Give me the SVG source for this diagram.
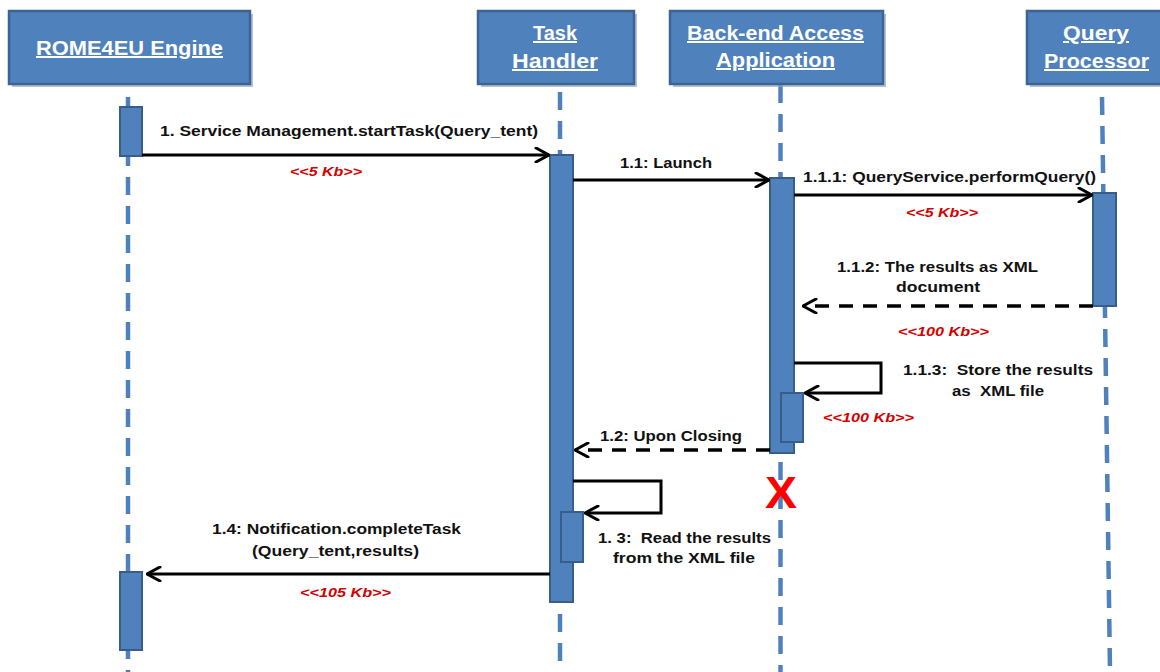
<svg xmlns="http://www.w3.org/2000/svg" width="1160" height="672" viewBox="0 0 1160 672">
<style>
.hdr{fill:#4F81BD;stroke:#3A6496;stroke-width:2.5}
.shd{fill:#9AA6BA;opacity:0.7}
.ht{font-family:"Liberation Sans",Arial,sans-serif;font-weight:bold;font-size:20px;fill:#ffffff;text-decoration:underline}
.life{stroke:#4F81BD;stroke-width:4.5;stroke-dasharray:18 11;fill:none}
.bar{fill:#4F81BD;stroke:#385D8A;stroke-width:2}
.msg{stroke:#000;stroke-width:3;fill:none}
.ret{stroke:#000;stroke-width:3.5;fill:none;stroke-dasharray:14 10}
.lbl{font-family:"Liberation Sans",Arial,sans-serif;font-weight:bold;font-size:14px;fill:#111}
.sz{font-family:"Liberation Sans",Arial,sans-serif;font-weight:bold;font-style:italic;font-size:13px;fill:#D40000}
</style>
<defs>
<marker id="open" viewBox="0 0 16 16" refX="15" refY="8" markerWidth="16" markerHeight="16" markerUnits="userSpaceOnUse" orient="auto">
<path d="M2,1 L15,8 L2,15" fill="none" stroke="#000" stroke-width="3" stroke-linejoin="round" stroke-linecap="round"/>
</marker>
</defs>
<rect width="1160" height="672" fill="#ffffff"/>
<g id="lifelines">
<line class="life" x1="128" y1="97" x2="128" y2="672" stroke-dashoffset="7"/>
<line class="life" x1="560" y1="92" x2="560" y2="672"/>
<line class="life" x1="780.5" y1="85" x2="780.5" y2="672"/>
<line class="life" x1="1102" y1="97" x2="1110" y2="672"/>
</g>
<g id="rome4eu">
<rect class="shd" x="12" y="14" width="241" height="73"/>
<rect class="hdr" x="9" y="11" width="241" height="73"/>
<text class="ht" x="36" y="55" textLength="187" lengthAdjust="spacingAndGlyphs">ROME4EU Engine</text>
<rect class="bar" x="120" y="107" width="22" height="49"/>
<rect class="bar" x="120" y="572" width="22" height="78"/>
</g>
<g id="taskhandler">
<rect class="shd" x="481" y="14" width="156" height="73"/>
<rect class="hdr" x="478" y="11" width="156" height="73"/>
<text class="ht" x="533" y="40" textLength="44" lengthAdjust="spacingAndGlyphs">Task</text>
<text class="ht" x="512" y="68" textLength="86" lengthAdjust="spacingAndGlyphs">Handler</text>
<rect class="bar" x="550" y="155" width="23" height="447"/>
<rect class="bar" x="561" y="512" width="22" height="50"/>
</g>
<g id="backend">
<rect class="shd" x="673" y="14" width="213" height="73"/>
<rect class="hdr" x="670" y="11" width="213" height="73"/>
<text class="ht" x="687" y="40" textLength="177" lengthAdjust="spacingAndGlyphs">Back-end Access</text>
<text class="ht" x="716" y="67" textLength="119" lengthAdjust="spacingAndGlyphs">Application</text>
<rect class="bar" x="770" y="178" width="24" height="275"/>
<rect class="bar" x="781" y="393" width="22" height="49"/>
<text x="781" y="508" text-anchor="middle" font-family="Liberation Sans,Arial,sans-serif" font-weight="bold" font-size="44" fill="#FF0000" textLength="32" lengthAdjust="spacingAndGlyphs">X</text>
</g>
<g id="queryprocessor">
<rect class="shd" x="1030" y="14" width="150" height="73"/>
<rect class="hdr" x="1027" y="11" width="150" height="73"/>
<text class="ht" x="1063" y="40" textLength="66" lengthAdjust="spacingAndGlyphs">Query</text>
<text class="ht" x="1044" y="68" textLength="105" lengthAdjust="spacingAndGlyphs">Processor</text>
<rect class="bar" x="1093" y="193" width="23" height="113"/>
</g>
<g id="connectors">
<path class="msg" d="M142,155 H549" marker-end="url(#open)"/>
<path class="msg" d="M573,180 H769" marker-end="url(#open)"/>
<path class="msg" d="M794,195 H1092" marker-end="url(#open)"/>
<path class="ret" d="M1093,306 H803" marker-end="url(#open)"/>
<path class="msg" d="M794,363 H881 V393 H805" marker-end="url(#open)"/>
<path class="ret" d="M770,450 H575" marker-end="url(#open)"/>
<path class="msg" d="M573,481 H661 V513 H585" marker-end="url(#open)"/>
<path class="msg" d="M550,574 H147" marker-end="url(#open)"/>
</g>
<g id="labels">
<text class="lbl" x="160" y="136" textLength="378" lengthAdjust="spacingAndGlyphs">1. Service Management.startTask(Query_tent)</text>
<text class="sz" x="290" y="176" textLength="72" lengthAdjust="spacingAndGlyphs">&lt;&lt;5 Kb&gt;&gt;</text>
<text class="lbl" x="620" y="168" textLength="92" lengthAdjust="spacingAndGlyphs">1.1: Launch</text>
<text class="lbl" x="803" y="182" textLength="293" lengthAdjust="spacingAndGlyphs">1.1.1: QueryService.performQuery()</text>
<text class="sz" x="906" y="217" textLength="72" lengthAdjust="spacingAndGlyphs">&lt;&lt;5 Kb&gt;&gt;</text>
<text class="lbl" x="837" y="272" textLength="201" lengthAdjust="spacingAndGlyphs">1.1.2: The results as XML</text>
<text class="lbl" x="896" y="292" textLength="84" lengthAdjust="spacingAndGlyphs">document</text>
<text class="sz" x="898" y="336" textLength="91" lengthAdjust="spacingAndGlyphs">&lt;&lt;100 Kb&gt;&gt;</text>
<text class="lbl" x="903" y="375" textLength="190" lengthAdjust="spacingAndGlyphs" xml:space="preserve">1.1.3:  Store the results</text>
<text class="lbl" x="952" y="396" textLength="92" lengthAdjust="spacingAndGlyphs" xml:space="preserve">as  XML file</text>
<text class="sz" x="823" y="422" textLength="91" lengthAdjust="spacingAndGlyphs">&lt;&lt;100 Kb&gt;&gt;</text>
<text class="lbl" x="600" y="441" textLength="142" lengthAdjust="spacingAndGlyphs">1.2: Upon Closing</text>
<text class="lbl" x="598" y="543" textLength="173" lengthAdjust="spacingAndGlyphs" xml:space="preserve">1. 3:  Read the results</text>
<text class="lbl" x="613" y="563" textLength="142" lengthAdjust="spacingAndGlyphs">from the XML file</text>
<text class="lbl" x="212" y="534" textLength="249" lengthAdjust="spacingAndGlyphs">1.4: Notification.completeTask</text>
<text class="lbl" x="252" y="556" textLength="167" lengthAdjust="spacingAndGlyphs">(Query_tent,results)</text>
<text class="sz" x="300" y="597" textLength="91" lengthAdjust="spacingAndGlyphs">&lt;&lt;105 Kb&gt;&gt;</text>
</g>
</svg>
